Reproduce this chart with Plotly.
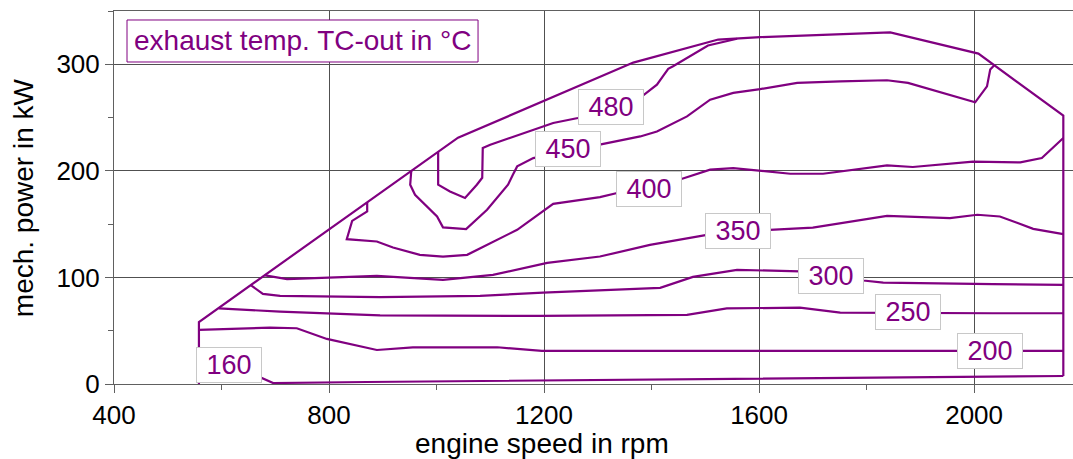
import plotly.graph_objects as go

# ---- data (engine speed in rpm, mech. power in kW) ----
env_x = [558, 558, 1040, 1198, 1366, 1524, 1602, 1844, 2008, 2166, 2166]
env_y = [0, 58.2, 231.1, 264.9, 301.6, 323.2, 325.5, 330.0, 310.0, 251.8, 7.5]

c160_x = [588, 672, 696, 871, 1178, 1490, 1788, 2091, 2166]
c160_y = [25.4, 6.6, 0.9, 1.9, 3.3, 4.7, 5.6, 7.5, 7.5]

c200_x = [558, 690, 740, 796, 889, 956, 1113, 1196, 2166]
c200_y = [50.7, 52.9, 52.3, 42.3, 31.9, 34.3, 34.5, 31.0, 31.0]

c250_x = [595, 709, 895, 1081, 1193, 1466, 1540, 1676, 1751, 2035, 2166]
c250_y = [71.0, 67.9, 64.4, 64.4, 63.9, 64.8, 70.9, 71.7, 67.0, 66.4, 66.4]

c300_x = [655, 677, 709, 895, 1081, 1198, 1416, 1477, 1559, 1676, 1794, 1831, 2035, 2166]
c300_y = [92.5, 84.6, 82.7, 81.5, 82.7, 85.8, 90.2, 100.5, 107.1, 105.7, 97.1, 95.2, 93.7, 93.0]

c350_x = [681, 722, 889, 1012, 1105, 1206, 1304, 1397, 1503, 1620, 1700, 1838, 1955, 2006, 2048, 2110, 2166]
c350_y = [102.0, 98.4, 101.5, 97.7, 102.4, 113.7, 119.6, 130.6, 140.0, 144.7, 146.8, 157.8, 155.7, 158.8, 157.2, 145.6, 140.6]

c400_x = [871, 871, 843, 833, 889, 919, 969, 1012, 1057, 1150, 1217, 1304, 1336, 1457, 1509, 1552,
          1658, 1719, 1838, 1886, 1998, 2086, 2126, 2166]
c400_y = [170.5, 161.9, 153.1, 135.9, 133.7, 128.1, 121.2, 119.6, 121.2, 144.7, 169.1, 175.4, 179.2, 192.6,
          201.1, 202.6, 197.3, 197.3, 205.1, 203.6, 208.6, 207.9, 212.0, 230.8]

c450_x = [953, 951, 960, 1001, 1012, 1055, 1094, 1133, 1142, 1150, 1180, 1300, 1379, 1410, 1466, 1509,
          1552, 1602, 1671, 1751, 1838, 1877, 2002, 2024, 2030, 2037]
c450_y = [200.1, 187.0, 177.6, 157.2, 147.0, 145.3, 163.5, 187.0, 196.4, 204.2, 212.0, 224.5, 232.3, 237.0,
          251.1, 266.8, 273.1, 276.7, 282.5, 284.0, 285.0, 282.5, 264.3, 279.3, 295.0, 298.8]

c480_x = [1003, 1003, 1025, 1053, 1075, 1085, 1086, 1100, 1217, 1263, 1384, 1410, 1421, 1431, 1440, 1505, 1559]
c480_y = [217.8, 187.0, 180.7, 174.5, 187.0, 193.5, 221.4, 224.5, 244.9, 249.6, 270.6, 280.9, 288.7,
          295.7, 298.1, 317.6, 324.0]

label_text = ["160", "200", "250", "300", "350", "400", "450", "480"]
label_x = [614, 2030, 1877, 1734, 1561, 1395, 1244, 1325]
label_y = [17.9, 30.7, 67.2, 101.2, 143.7, 183.4, 220.8, 259.5]

x_ticks = [400, 800, 1200, 1600, 2000]
y_ticks = [0, 100, 200, 300]

PURPLE = "#800080"
FONT = "Arial, Liberation Sans, sans-serif"

fig = go.Figure()
for xs, ys in [(env_x, env_y), (c160_x, c160_y), (c200_x, c200_y), (c250_x, c250_y),
               (c300_x, c300_y), (c350_x, c350_y), (c400_x, c400_y), (c450_x, c450_y),
               (c480_x, c480_y)]:
    fig.add_trace(go.Scatter(x=xs, y=ys, mode="lines",
                             line=dict(color=PURPLE, width=2.2), showlegend=False,
                             hoverinfo="skip"))

for t, x, y in zip(label_text, label_x, label_y):
    fig.add_annotation(x=x, y=y, xref="x", yref="y", text="\u00a0" + t + "\u00a0",
                       showarrow=False, font=dict(family=FONT, size=27, color=PURPLE),
                       bgcolor="white", bordercolor="#c8c8c8", borderwidth=1, borderpad=2,
                       xanchor="center", yanchor="middle")

# title box
fig.add_shape(type="rect", xref="paper", yref="paper",
              x0=0.01356, x1=0.3796, y0=0.8633, y1=0.9759,
              line=dict(color=PURPLE, width=1), fillcolor="white", layer="above")
fig.add_annotation(x=(0.01356 + 0.3796) / 2, y=(0.8633 + 0.9759) / 2, xref="paper", yref="paper",
                   text="exhaust temp. TC-out in °C", showarrow=False,
                   font=dict(family=FONT, size=28, color=PURPLE),
                   xanchor="center", yanchor="middle")

fig.add_annotation(x=0.4468, y=-0.16, xref="paper", yref="paper",
                   text="engine speed in rpm", showarrow=False,
                   font=dict(family=FONT, size=28, color="black"),
                   xanchor="center", yanchor="middle")
fig.add_annotation(x=-0.0942, y=0.5, xref="paper", yref="paper",
                   text="mech. power in kW", showarrow=False, textangle=-90,
                   font=dict(family=FONT, size=28, color="black"),
                   xanchor="center", yanchor="middle")

fig.update_layout(
    width=1073, height=459,
    margin=dict(l=114, r=0, t=11, b=75),
    paper_bgcolor="white", plot_bgcolor="white",
    font=dict(family=FONT, size=26, color="black"),
)
fig.update_xaxes(range=[400, 2184], tickvals=x_ticks, ticks="outside", ticklen=8,
                 tickcolor="#606060", showgrid=True, gridcolor="#505050", gridwidth=1,
                 showline=True, linecolor="#606060", linewidth=1, mirror=True,
                 zeroline=False, tickfont=dict(size=26),
                 minor=dict(dtick=200, tick0=400, ticks="outside", ticklen=5,
                            tickcolor="#606060", showgrid=False))
fig.update_yaxes(range=[0, 350], tickvals=y_ticks, ticks="outside", ticklen=8,
                 tickcolor="#606060", showgrid=True, gridcolor="#505050", gridwidth=1,
                 showline=True, linecolor="#606060", linewidth=1,
                 zeroline=False, tickfont=dict(size=26),
                 minor=dict(dtick=50, tick0=0, ticks="outside", ticklen=5,
                            tickcolor="#606060", showgrid=False))

fig.write_html("out.html")
